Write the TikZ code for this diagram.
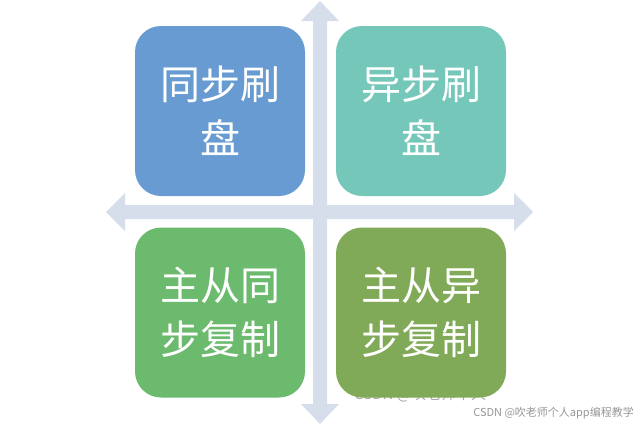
\documentclass[tikz,border=0pt]{standalone}
\usepackage{fontspec}
\newfontfamily\cjk{Noto Sans CJK SC}
\definecolor{arrowc}{RGB}{214,222,235}
\definecolor{cTL}{RGB}{104,155,209}
\definecolor{cTR}{RGB}{117,199,185}
\definecolor{cBL}{RGB}{108,186,110}
\definecolor{cBR}{RGB}{128,170,87}
\definecolor{wm}{RGB}{150,150,150}
\tikzset{
  quad/.style={rounded corners=26pt, minimum width=170pt, minimum height=170pt, inner sep=0pt,
    text=white, font=\cjk\fontsize{40pt}{54pt}\selectfont, align=center, text width=150pt},
  blockarrow/.style={fill=arrowc, draw=none}
}
\begin{document}
\begin{tikzpicture}[x=1pt,y=-1pt]
\useasboundingbox (0,0) rectangle (640,426);
% cross of block arrows
\fill[blockarrow] (320,1) -- (339,21) -- (327,21) -- (327,404) -- (339,404) -- (320,424)
  -- (301,404) -- (313,404) -- (313,21) -- (301,21) -- cycle;
\fill[blockarrow] (106,212) -- (125,193) -- (125,205) -- (514,205) -- (514,193) -- (533,212)
  -- (514,231) -- (514,219) -- (125,219) -- (125,231) -- cycle;
% faint watermark behind lower box
\node[anchor=base west, inner sep=0pt, text=wm!85, font=\cjk\fontsize{15pt}{15pt}\selectfont] (wm1) at (354,399) {CSDN @吹老师个人};
% boxes
\node[quad, fill=cTL] (tl) at (220,111) {同步刷\\盘};
\node[quad, fill=cTR] (tr) at (421,111) {异步刷\\盘};
\node[quad, fill=cBL] (bl) at (220,312.5) {主从同\\步复制};
\node[quad, fill=cBR] (br) at (421,312.5) {主从异\\步复制};
% watermark
\node[anchor=east, inner sep=0pt, text=wm, font=\cjk\fontsize{11pt}{11pt}\selectfont] (wm2) at (634,413) {CSDN @吹老师个人app编程教学};
\end{tikzpicture}
\end{document}
